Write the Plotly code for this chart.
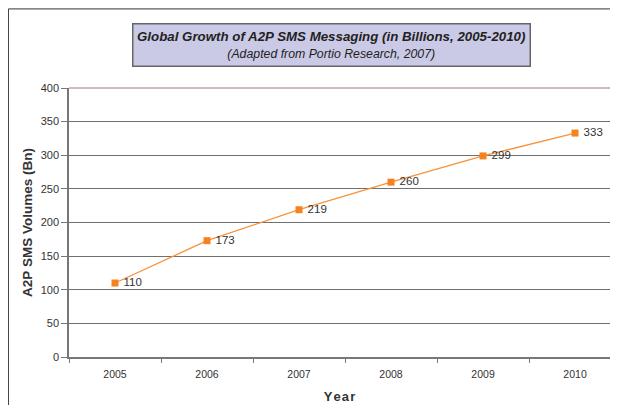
import plotly.graph_objects as go

years = ["2005", "2006", "2007", "2008", "2009", "2010"]
volumes = [110, 173, 219, 260, 299, 333]
value_labels = ["110", "173", "219", "260", "299", "333"]
y_ticks = [0, 50, 100, 150, 200, 250, 300, 350, 400]

FONT = "Liberation Sans, Arial, sans-serif"

fig = go.Figure()
fig.add_trace(go.Scatter(
    x=years, y=volumes, mode="lines+markers+text",
    text=[" " + t for t in value_labels], textposition="middle right",
    textfont=dict(family=FONT, size=11.5, color="#333333"),
    line=dict(color="#f7923a", width=1.3),
    marker=dict(symbol="square", size=7, color="#f5821f", line=dict(color="#f5821f", width=0)),
    cliponaxis=False, showlegend=False,
))

fig.update_layout(
    width=602, height=397,
    margin=dict(l=61, r=0, t=80, b=48),
    paper_bgcolor="white", plot_bgcolor="white",
    font=dict(family=FONT, color="#333333"),
    xaxis=dict(
        type="category", range=[-0.5, 5.38],
        showgrid=False, showline=True, linecolor="#777777", linewidth=2,
        ticks="outside", tickson="boundaries", ticklen=4, tickcolor="#777777",
        tickfont=dict(size=10.5, color="#333333"), ticklabelstandoff=6,
        title=dict(text="<b>Y e a r</b>".replace(" ", "&#8202;"), font=dict(size=13, color="#333333"), standoff=13),
    ),
    yaxis=dict(
        range=[0, 400], tickvals=y_ticks,
        showgrid=True, gridcolor="#707070", gridwidth=1,
        showline=True, linecolor="#777777", linewidth=1.5,
        ticks="outside", ticklen=6, tickcolor="#777777",
        tickfont=dict(size=11, color="#333333"), ticklabelstandoff=0,
        zeroline=False,
        title=dict(text="<b>A2P SMS Volumes (Bn)</b>", font=dict(size=13.5, color="#333333"), standoff=5),
    ),
    shapes=[
        # outer chart border (left and top)
        dict(type="line", xref="paper", yref="paper", x0=-0.112, x1=-0.112, y0=-0.3, y1=1.294,
             line=dict(color="#333333", width=1)),
        dict(type="line", xref="paper", yref="paper", x0=-0.112, x1=1.05, y0=1.294, y1=1.294,
             line=dict(color="#333333", width=1)),
        # top plot border line
        dict(type="line", xref="paper", yref="paper", x0=0, x1=1.05, y0=1, y1=1,
             line=dict(color="#9a7a7a", width=1)),
    ],
    annotations=[
        dict(
            xref="paper", yref="paper", x=0.486, y=1.158, xanchor="center", yanchor="middle",
            text="<b><i>Global Growth of A2P SMS Messaging (in Billions, 2005-2010)</i></b><br>"
                 "<span style='font-size:12.3px'><i>(Adapted from Portio Research, 2007)</i></span>",
            showarrow=False, align="center",
            font=dict(family=FONT, size=13.3, color="#222222"),
            bgcolor="#cbcae6", bordercolor="#666666", borderwidth=1.5, borderpad=3,
            width=390, height=35,
        ),
    ],
)

fig.write_html("out.html")
